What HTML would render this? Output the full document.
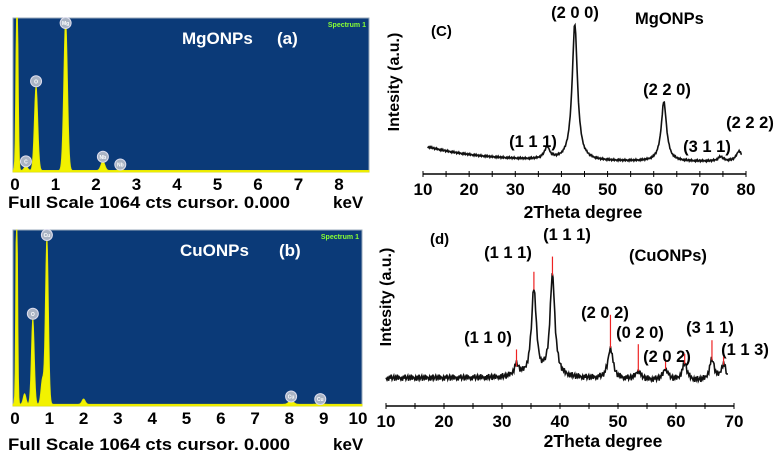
<!DOCTYPE html>
<html><head><meta charset="utf-8"><style>
body{margin:0;background:#fff;width:780px;height:462px;overflow:hidden;font-family:"Liberation Sans",sans-serif}
svg text{font-family:"Liberation Sans",sans-serif;font-weight:bold}
</style></head><body>
<svg id="s" width="780" height="462" viewBox="0 0 780 462"></svg>
<script>
// EDS (a) MgONPs peaks: energy keV, height fraction (0..1 of panel), label
const edsAEnergy=[0.05,0.27,0.52,1.25,2.17,2.6];
const edsAHeight=[1.3,0.03,0.55,0.99,0.06,0.01];
const edsALabels=["","C","O","Mg","Nb","Nb"];
// EDS (b) CuONPs peaks
const edsBEnergy=[0.05,0.28,0.52,0.8,0.93,2.0,8.05,8.9];
const edsBHeight=[1.3,0.06,0.49,0.14,0.95,0.03,0.02,0.005];
const edsBLabels=["","","O","","Cu","","Cu","Cu"];
// XRD (c) MgONPs
const xrdCPos=[36.9,42.9,62.2,74.5,78.5];
const xrdCHeight=[0.08,0.92,0.40,0.03,0.07];
const xrdCLabels=["(1 1 1)","(2 0 0)","(2 2 0)","(3 1 1)","(2 2 2)"];
// XRD (d) CuONPs
const xrdDPos=[32.5,35.5,38.7,48.7,53.5,58.2,61.5,66.2,68.2];
const xrdDHeight=[0.08,0.62,0.72,0.22,0.06,0.08,0.12,0.15,0.12];
const xrdDLabels=["(1 1 0)","(1 1 1)","(1 1 1)","(2 0 2)","(0 2 0)","(2 0 2)","(3 1 1)","(1 1 3)",""];
const xTicksA=[0,1,2,3,4,5,6,7,8];
const xTicksB=[0,1,2,3,4,5,6,7,8,9,10];
const xTicksC=[10,20,30,40,50,60,70,80];
const xTicksD=[10,20,30,40,50,60,70];
const jitter=[0,2,-1,3,-2,1,-3,2,0,-2,3,-1,1,-3,2,-1];

const S=document.getElementById('s');const NS='http://www.w3.org/2000/svg';
function el(t,a,txt){const e=document.createElementNS(NS,t);for(const k in a)e.setAttribute(k,a[k]);if(txt!==undefined)e.textContent=txt;S.appendChild(e);return e;}
function sx(x0,x1,v0,v1){return v=>x0+(v-v0)*(x1-x0)/(v1-v0);}

function eds(o){
  let r=el('rect',{x:o.l,y:o.t,width:o.r-o.l,height:o.b-o.t,fill:'#0b3a78',stroke:'#9ab',"stroke-width":1});
  
  const X=sx(o.x0px,o.x1px,o.v0,o.v1);const H=o.b-o.t;
  let d='M'+o.l+','+o.b;
  for(let px=o.l;px<=o.r;px+=0.5){
    const e=(px-o.x0px)*(o.v1-o.v0)/(o.x1px-o.x0px)+o.v0;let y=0.01;
    o.E.forEach((c,i)=>{const w=c<0.2?0.025:0.04+0.004*c;y+=o.Hh[i]*Math.exp(-((e-c)**2)/(2*w*w));});
    d+=' L'+px+','+Math.max(o.t,o.b-y*H);
  }
  d+=' L'+o.r+','+o.b+'Z';
  let p=el('path',{d,fill:'#f2f200',stroke:'#e8e800',"stroke-width":0.8});
  
  o.E.forEach((c,i)=>{if(!o.L[i])return;const cx=X(c),cy=Math.max(o.t+5,o.b-o.Hh[i]*H-6);
    let g=el('circle',{cx,cy,r:5.5,fill:'#aab4c4',stroke:'#dde',"stroke-width":1});
    
    el('text',{x:cx,y:cy+2,"font-size":5,fill:'#fff',"text-anchor":'middle'},o.L[i]);});
  o.ticks.forEach(t=>{let tx=el('text',{x:X(t),y:o.b+18,"font-size":17,"text-anchor":'middle',fill:'#000'},t);
    });
  let sp=el('text',{x:o.r-3,y:o.t+9,"font-size":7,"font-weight":'normal',fill:'#8f3',"text-anchor":'end'},'Spectrum 1');
  
  let ti=el('text',{x:o.tx,y:o.t+26,"font-size":17,fill:'#fff'},o.title);
  
  let tl=el('text',{x:o.tagx,y:o.t+26,"font-size":17,fill:'#fff'},o.tag);
  
  let fs=el('text',{x:8,y:o.fy,"font-size":17,fill:'#000',textLength:282,lengthAdjust:'spacingAndGlyphs'},'Full Scale 1064 cts cursor. 0.000');
  
  let kv=el('text',{x:333,y:o.fy,"font-size":17,fill:'#000'},'keV');
  
}
eds({name:'eds-mgo',l:13,r:369,t:18,b:172,x0px:15,x1px:339,v0:0,v1:8,E:edsAEnergy,Hh:edsAHeight,L:edsALabels,ticks:xTicksA,title:'MgONPs',tag:'(a)',tx:182,tagx:277,fy:208});
eds({name:'eds-cuo',l:13,r:362,t:230,b:406,x0px:15,x1px:358,v0:0,v1:10,E:edsBEnergy,Hh:edsBHeight,L:edsBLabels,ticks:xTicksB,title:'CuONPs',tag:'(b)',tx:180,tagx:279,fy:450});

function xrd(o){
  const X=sx(o.x0px,o.x1px,o.v0,o.v1);const H=o.base-o.top;
  let ax=el('line',{x1:o.x0px,y1:o.axy,x2:o.x1px,y2:o.axy,stroke:'#000',"stroke-width":1.5});
  
  for(let v=o.v0;v<=o.v1;v+=5){el('line',{x1:X(v),y1:o.axy-3,x2:X(v),y2:o.axy+3,stroke:'#000'});}
  o.ticks.forEach(t=>{let tx=el('text',{x:X(t),y:o.axy+21,"font-size":17,"text-anchor":'middle',fill:'#000'},t);
    });
  let d='';let k=0;
  for(let v=o.s0;v<=o.s1;v+=0.15,k++){
    let y=o.bg(v);o.P.forEach((c,i)=>{const w=o.w;y+=o.Hh[i]/(1+((v-c)/w)**2);});
    const py=o.base-y*H+jitter[k%jitter.length]*o.noise;
    d+=(d?' L':'M')+X(v).toFixed(1)+','+py.toFixed(1);
  }
  let p=el('path',{d,fill:'none',stroke:'#111',"stroke-width":1.6});
  
  o.P.forEach((c,i)=>{
    if(o.redlines){let y=o.base-(o.bg(c)+o.Hh[i])*H;
      let rl=el('line',{x1:X(c),y1:y,x2:X(c),y2:y-o.rl[i],stroke:'#e22',"stroke-width":1.2});
      }
    if(!o.L[i])return;
    let t=el('text',{x:o.lx[i],y:o.ly[i],"font-size":16.5,"text-anchor":'middle',fill:'#000'},o.L[i]);
    });
  let xt=el('text',{x:o.xtx,y:o.xty,"font-size":17.5,"text-anchor":'middle',fill:'#000'},'2Theta degree');
  
  let yt=el('text',{x:0,y:0,"font-size":16,"text-anchor":'middle',fill:'#000',transform:`translate(${o.ytx},${o.yty}) rotate(-90)`},'Intesity (a.u.)');
  
  let tg=el('text',{x:o.tagx,y:o.tagy,"font-size":15,fill:'#000'},o.tag);
  
  let ti=el('text',{x:o.tix,y:o.tiy,"font-size":16.5,fill:'#000'},o.title);
  
}
xrd({name:'xrd-mgo',x0px:423,x1px:746,v0:10,v1:80,axy:174,base:166,top:18,s0:11,s1:79.2,w:0.7,noise:0.3,
  bg:v=>0.03+0.1*Math.exp(-(v-11)/12),P:xrdCPos,Hh:xrdCHeight,L:xrdCLabels,ticks:xTicksC,
  lx:[533,575,667,707,750],ly:[147,18,95,152,128],xtx:583,xty:218,ytx:399,yty:82,tag:'(C)',tagx:431,tagy:36,title:'MgONPs',tix:635,tiy:24});
xrd({name:'xrd-cuo',x0px:386,x1px:734,v0:10,v1:70,axy:406,base:392,top:250,s0:10,s1:69,w:0.5,noise:1.0,
  bg:v=>0.1-0.03*Math.max(0,(v-40)/30),P:xrdDPos,Hh:xrdDHeight,L:xrdDLabels,ticks:xTicksD,redlines:true,
  rl:[17,18,19,33,27,10,10,20,8],
  lx:[488,508,567,605,640,667,710,745],ly:[343,258,240,318,338,362,333,355],xtx:603,xty:447,ytx:391,yty:297,tag:'(d)',tagx:430,tagy:244,title:'(CuONPs)',tix:629,tiy:261});
</script>
</body></html>
